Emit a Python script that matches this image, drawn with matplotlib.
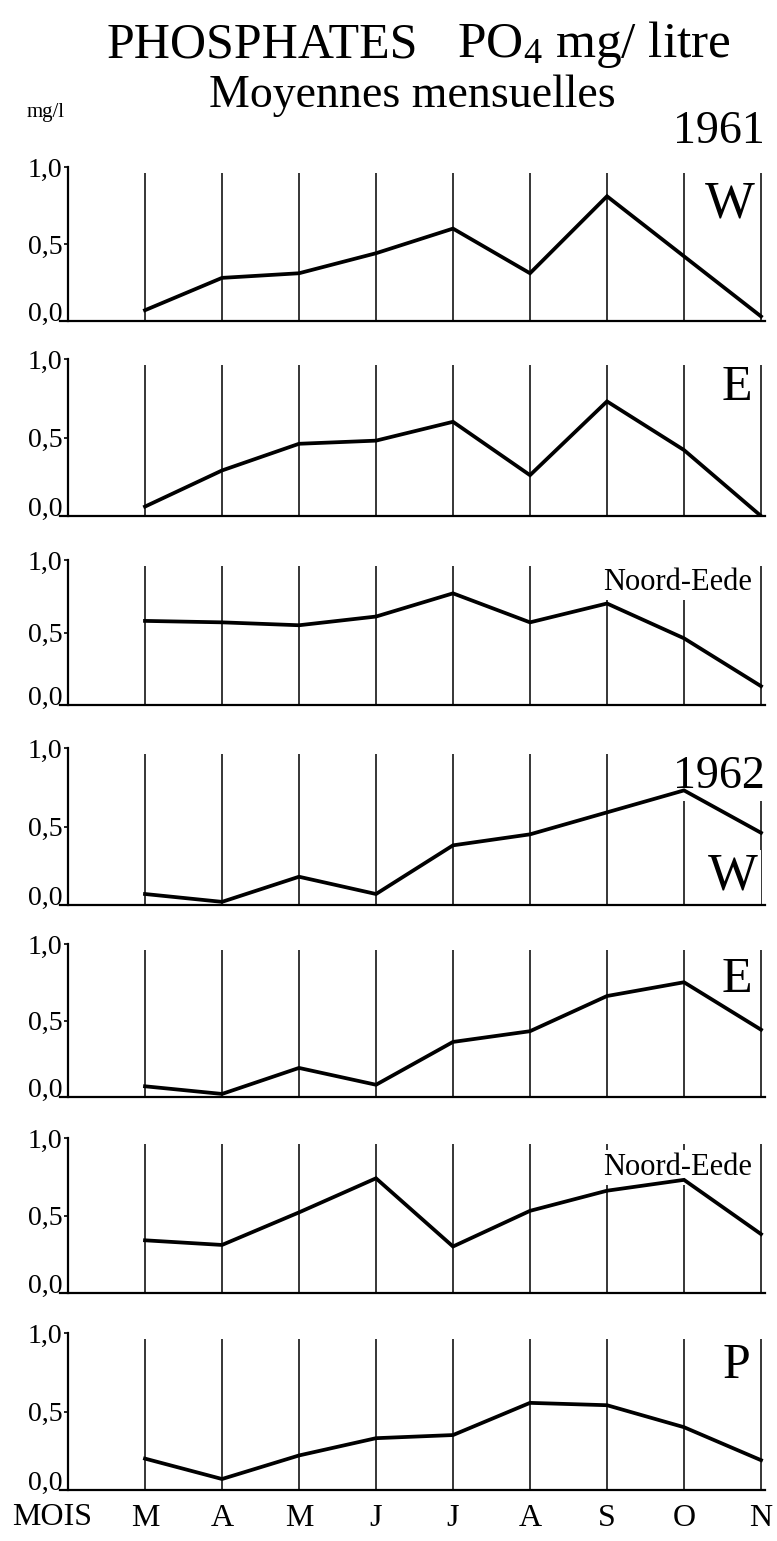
import matplotlib
matplotlib.use("Agg")
import matplotlib.pyplot as plt

plt.rcParams['font.family'] = ['Liberation Serif', 'DejaVu Serif']
plt.rcParams['mathtext.fontset'] = 'custom'
plt.rcParams['mathtext.rm'] = 'Liberation Serif'
plt.rcParams['mathtext.it'] = 'Liberation Serif:italic'

# Monthly means of phosphate (PO4, mg/l), March to November
months = ["M", "A", "M", "J", "J", "A", "S", "O", "N"]
w_1961 = [0.07, 0.28, 0.31, 0.44, 0.60, 0.31, 0.81, 0.42, 0.03]
e_1961 = [0.06, 0.29, 0.46, 0.48, 0.60, 0.26, 0.73, 0.42, 0.00]
ne_1961 = [0.58, 0.57, 0.55, 0.61, 0.77, 0.57, 0.70, 0.46, 0.13]
w_1962 = [0.07, 0.02, 0.18, 0.07, 0.38, 0.45, 0.59, 0.73, 0.46]
e_1962 = [0.07, 0.02, 0.19, 0.08, 0.36, 0.43, 0.66, 0.75, 0.44]
ne_1962 = [0.34, 0.31, 0.52, 0.74, 0.30, 0.53, 0.66, 0.73, 0.38]
p_1962 = [0.20, 0.07, 0.22, 0.33, 0.35, 0.555, 0.54, 0.40, 0.19]

series = [w_1961, e_1961, ne_1961, w_1962, e_1962, ne_1962, p_1962]
ytick_vals = [0.0, 0.5, 1.0]
ytick_labels = ["0,0", "0,5", "1,0"]

W, H = 777, 1541
fig = plt.figure(figsize=(W / 100, H / 100), dpi=100)

# pixel rows of the 0,0 and 1,0 levels of each strip
rows = [(321, 167), (516, 359), (705, 560), (905, 748),
        (1097, 944), (1293, 1138), (1490, 1333)]

x_left_px, x_step_px = 68, 77
xmin, xmax = -0.1, 9.05
ax_left = (x_left_px + xmin * x_step_px) / W
ax_width = (xmax - xmin) * x_step_px / W

xs = list(range(1, len(months) + 1))
axes = []
for (y0, y1), vals in zip(rows, series):
    ax = fig.add_axes([ax_left, 1 - y0 / H, ax_width, (y0 - y1) / H])
    ax.set_xlim(xmin, xmax)
    ax.set_ylim(0, 1.0)
    ax.patch.set_visible(False)
    for s in ("top", "right"):
        ax.spines[s].set_visible(False)
    ax.spines["left"].set_position(("data", 0))
    ax.spines["left"].set_linewidth(1.6)
    ax.spines["bottom"].set_linewidth(1.6)
    ax.vlines(xs, 0, 0.96, color="black", linewidth=1.1, zorder=1)
    ax.plot(xs, vals, color="black", linewidth=2.7, solid_joinstyle="miter",
            zorder=3)
    ax.set_yticks(ytick_vals)
    ax.set_yticklabels(ytick_labels, fontsize=20)
    ax.get_yticklabels()[0].set_verticalalignment("baseline")
    ax.tick_params(axis="y", direction="out", length=3, width=1.2, pad=1)
    ax.set_xticks([])
    axes.append(ax)

bottom = axes[-1]
bottom.set_xticks(xs)
bottom.set_xticklabels(months, fontsize=23)
bottom.tick_params(axis="x", length=0, pad=10)
bottom.text(-0.2, -0.08, "MOIS", fontsize=23, ha="center", va="top",
            transform=bottom.get_xaxis_transform())


def ftext(x, y, s, **kw):
    return fig.text(x / W, 1 - y / H, s, **kw)


def panel_text(ax, x, y, s, **kw):
    # strip label drawn above the grid lines but beneath the curve
    return ax.text(x / W, 1 - y / H, s, transform=fig.transFigure,
                   clip_on=False, zorder=2,
                   bbox=dict(facecolor="white", edgecolor="none", pad=2), **kw)


ftext(107, 57, "PHOSPHATES", fontsize=36, ha="left", va="baseline")
ftext(457, 57, r"PO$_\mathrm{4}$ mg/ litre", fontsize=37, ha="left", va="baseline")
ftext(412, 107, "Moyennes mensuelles", fontsize=33, ha="center", va="baseline")
ftext(27, 117, "mg/l", fontsize=15, ha="left", va="baseline")
ftext(765, 143, "1961", fontsize=33, ha="right", va="baseline")

panel_text(axes[0], 755, 218, "W", fontsize=38, ha="right", va="baseline")
panel_text(axes[1], 752, 400, "E", fontsize=36, ha="right", va="baseline")
panel_text(axes[2], 752, 590, "Noord-Eede", fontsize=22, ha="right", va="baseline")
panel_text(axes[3], 765, 788, "1962", fontsize=33, ha="right", va="baseline")
panel_text(axes[3], 758, 890, "W", fontsize=38, ha="right", va="baseline")
panel_text(axes[4], 752, 992, "E", fontsize=36, ha="right", va="baseline")
panel_text(axes[5], 752, 1175, "Noord-Eede", fontsize=22, ha="right", va="baseline")
panel_text(axes[6], 750, 1378, "P", fontsize=36, ha="right", va="baseline")

fig.savefig("out.png", dpi=100)
